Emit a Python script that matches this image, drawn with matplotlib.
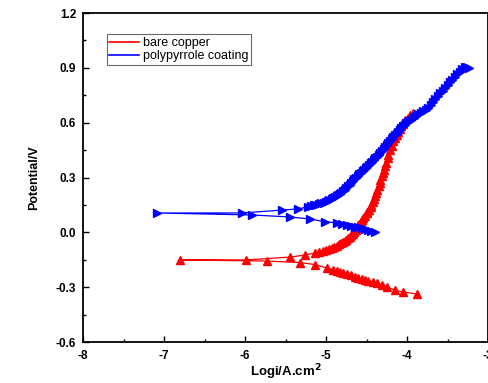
import matplotlib
matplotlib.use('Agg')
import matplotlib.pyplot as plt
from matplotlib.lines import Line2D
from matplotlib.ticker import MultipleLocator

plt.rcParams['font.family'] = ['Liberation Sans', 'DejaVu Sans']
plt.rcParams['font.size'] = 8

# bare copper: cathodic branch (scan start) then anodic branch
cu_cat_x = [-3.88, -4.05, -4.15, -4.25, -4.31, -4.37, -4.42, -4.48, -4.52, -4.56,
            -4.60, -4.64, -4.69, -4.74, -4.79, -4.83, -4.87, -4.91, -4.99, -5.14,
            -5.32, -5.73]
cu_cat_y = [-0.337, -0.326, -0.316, -0.299, -0.288, -0.277, -0.271, -0.266, -0.260, -0.255,
            -0.249, -0.244, -0.236, -0.228, -0.222, -0.217, -0.211, -0.206, -0.195, -0.176,
            -0.165, -0.157]
cu_an_x = [-6.80, -5.99, -5.44, -5.26, -5.14, -5.09, -5.04, -5.00, -4.96, -4.93,
           -4.90, -4.87, -4.84, -4.81, -4.79, -4.77, -4.75, -4.73, -4.71, -4.69,
           -4.67, -4.65, -4.63, -4.62, -4.60, -4.59, -4.57, -4.56, -4.54, -4.52,
           -4.50, -4.49, -4.47, -4.45, -4.44, -4.42, -4.41, -4.39, -4.38, -4.37,
           -4.35, -4.34, -4.33, -4.31, -4.30, -4.29, -4.27, -4.26, -4.24, -4.23,
           -4.21, -4.19, -4.17, -4.15, -4.13, -4.11, -4.09, -4.07, -4.05, -4.02,
           -3.99, -3.96, -3.93]
cu_an_y = [-0.151, -0.151, -0.135, -0.124, -0.113, -0.107, -0.100, -0.095, -0.090, -0.085,
           -0.079, -0.073, -0.066, -0.059, -0.053, -0.046, -0.040, -0.033, -0.025, -0.017,
           -0.008, 0.003, 0.015, 0.024, 0.038, 0.045, 0.058, 0.067, 0.080, 0.092,
           0.104, 0.111, 0.125, 0.140, 0.152, 0.168, 0.182, 0.200, 0.215, 0.230,
           0.252, 0.270, 0.287, 0.307, 0.325, 0.342, 0.362, 0.382, 0.405, 0.425,
           0.450, 0.475, 0.498, 0.518, 0.535, 0.550, 0.565, 0.580, 0.595, 0.612,
           0.628, 0.642, 0.653]

# polypyrrole coating
ppy_cat_x = [-4.40, -4.44, -4.48, -4.52, -4.56, -4.60, -4.64, -4.69, -4.74, -4.80,
             -4.86, -5.01, -5.20, -5.44, -5.91]
ppy_cat_y = [0.002, 0.008, 0.013, 0.019, 0.024, 0.027, 0.029, 0.035, 0.040, 0.046,
             0.051, 0.058, 0.073, 0.084, 0.095]
ppy_an_x = [-7.09, -6.04, -5.54, -5.35, -5.22, -5.18, -5.15, -5.12, -5.09, -5.06,
            -5.03, -5.00, -4.98, -4.96, -4.93, -4.91, -4.89, -4.87, -4.85, -4.83,
            -4.81, -4.79, -4.77, -4.75, -4.73, -4.71, -4.69, -4.67, -4.65, -4.63,
            -4.61, -4.59, -4.57, -4.55, -4.53, -4.51, -4.49, -4.47, -4.45, -4.43,
            -4.41, -4.39, -4.37, -4.35, -4.33, -4.31, -4.29, -4.27, -4.25, -4.23,
            -4.21, -4.19, -4.17, -4.15, -4.13, -4.11, -4.09, -4.07, -4.05, -4.03,
            -4.01, -3.99, -3.97, -3.95, -3.92, -3.89, -3.86, -3.83, -3.80, -3.77,
            -3.74, -3.71, -3.68, -3.65, -3.62, -3.59, -3.56, -3.53, -3.50, -3.47,
            -3.44, -3.41, -3.38, -3.35, -3.32, -3.29, -3.26, -3.23]
ppy_an_y = [0.106, 0.106, 0.122, 0.128, 0.140, 0.143, 0.147, 0.150, 0.154, 0.158,
            0.163, 0.168, 0.172, 0.177, 0.184, 0.190, 0.195, 0.200, 0.206, 0.212,
            0.218, 0.225, 0.234, 0.243, 0.252, 0.261, 0.270, 0.280, 0.290, 0.299,
            0.308, 0.317, 0.325, 0.333, 0.342, 0.350, 0.357, 0.367, 0.377, 0.386,
            0.396, 0.405, 0.415, 0.425, 0.434, 0.444, 0.455, 0.467, 0.478, 0.489,
            0.500, 0.510, 0.520, 0.530, 0.538, 0.548, 0.559, 0.570, 0.580, 0.589,
            0.596, 0.603, 0.610, 0.617, 0.625, 0.635, 0.645, 0.655, 0.662, 0.670,
            0.682, 0.698, 0.715, 0.730, 0.745, 0.760, 0.775, 0.790, 0.805, 0.820,
            0.835, 0.850, 0.865, 0.880, 0.892, 0.902, 0.905, 0.900]

fig = plt.figure(figsize=(4.89, 3.83), dpi=100)
ax = fig.add_axes([0.170, 0.107, 0.828, 0.859])

ax.plot(cu_cat_x + cu_an_x, cu_cat_y + cu_an_y, color='red', lw=0.9,
        marker='^', ms=6, mec='red', mfc='red')
ax.plot(ppy_cat_x + ppy_an_x, ppy_cat_y + ppy_an_y, color='blue', lw=0.9,
        marker='>', ms=6, mec='blue', mfc='blue')

ax.set_xlim(-8, -3)
ax.set_ylim(-0.6, 1.2)
ax.xaxis.set_minor_locator(MultipleLocator(0.5))
ax.yaxis.set_minor_locator(MultipleLocator(0.15))
ax.set_yticks([-0.6, -0.3, 0.0, 0.3, 0.6, 0.9, 1.2])
ax.set_yticklabels(['-0.6', '-0.3', '0.0', '0.3', '0.6', '0.9', '1.2'])
ax.set_xticks([-8, -7, -6, -5, -4, -3])
ax.set_xticklabels(['-8', '-7', '-6', '-5', '-4', '-3'])
ax.tick_params(which='both', direction='in', top=False, right=False, width=1)
ax.tick_params(which='major', length=4, labelsize=8.5)
ax.tick_params(axis='x', which='major', pad=6)
ax.tick_params(axis='y', which='major', pad=5)
ax.tick_params(which='minor', length=2.5)
for lab in ax.get_xticklabels() + ax.get_yticklabels():
    lab.set_fontweight('bold')
for sp in ax.spines.values():
    sp.set_linewidth(1.3)

ax.set_xlabel(r'Logi/A.cm$^\mathbf{2}$', fontsize=9.5, fontweight='bold', labelpad=0)
ax.set_ylabel('Potential/V', fontsize=9, fontweight='bold', labelpad=11)

handles = [Line2D([], [], color='red', lw=1.2), Line2D([], [], color='blue', lw=1.2)]
leg = ax.legend(handles, ['bare copper', 'polypyrrole coating'], loc='upper left',
                bbox_to_anchor=(0.058, 0.935), fontsize=9, frameon=True, fancybox=False,
                borderpad=0.2, labelspacing=0.1, handlelength=2.4, handletextpad=0.3,
                borderaxespad=0)
leg.get_frame().set_edgecolor('#444444')
leg.get_frame().set_linewidth(0.8)

fig.savefig('out.png', dpi=100)
